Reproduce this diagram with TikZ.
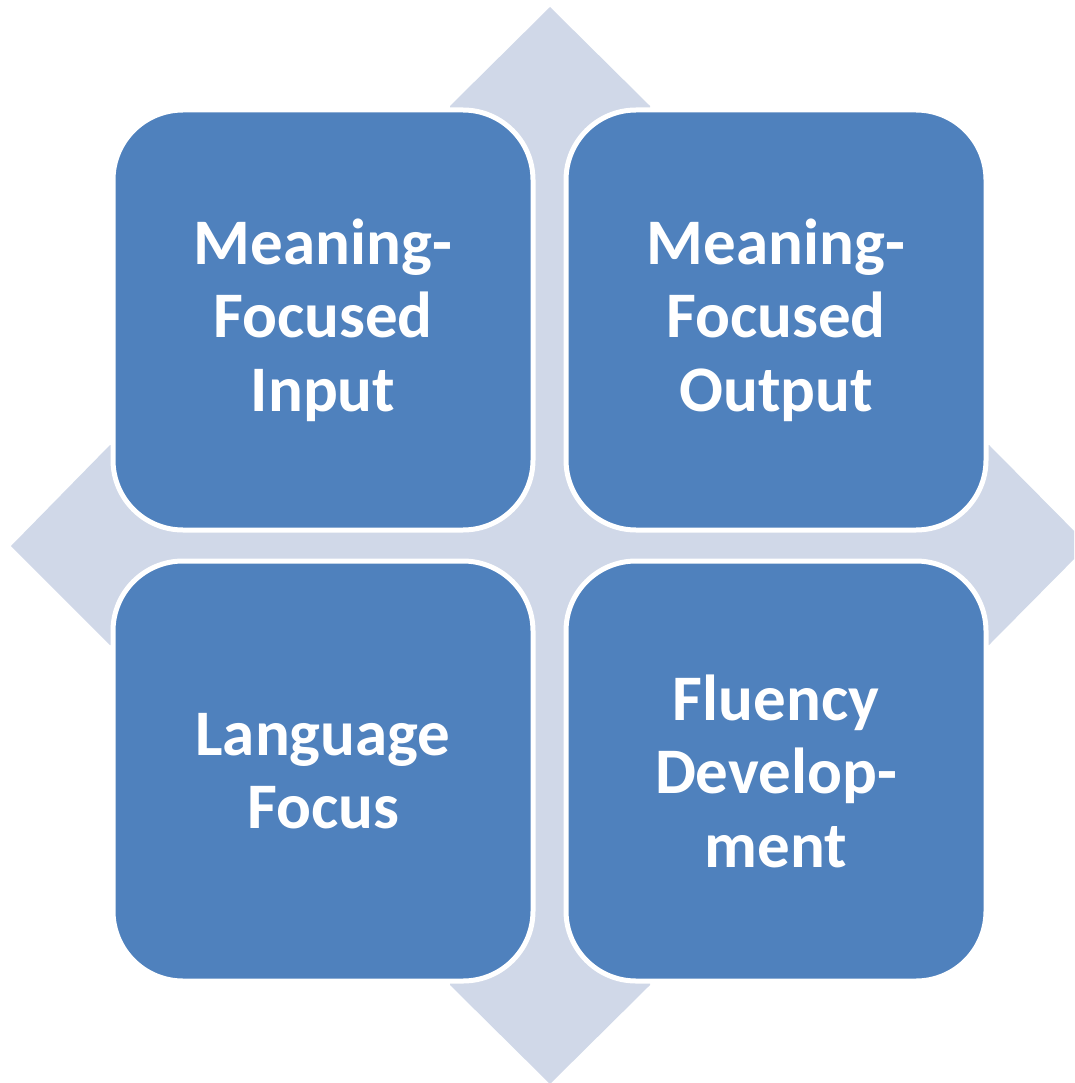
\documentclass[tikz,border=0pt]{standalone}
\usepackage{fontspec}
\setmainfont{Carlito}
\definecolor{boxblue}{HTML}{4F81BD}
\definecolor{crossgrey}{HTML}{D0D8E8}
\begin{document}
\begin{tikzpicture}[x=1pt,y=-1pt,
  quad/.style={draw=white, line width=5pt, fill=boxblue, rounded corners=70pt,
    minimum width=420pt, minimum height=420pt, inner sep=0pt, text=white,
    align=center, font={\fontsize{65}{73.5}\selectfont\bfseries}}]
\useasboundingbox (0,0) rectangle (1074,1083);
\clip (0,0) rectangle (1074,1083);
\fill[crossgrey] (550,7) -- (650,106) -- (650,445) -- (989,445) -- (1088,545)
  -- (989,645) -- (650,645) -- (650,985) -- (550,1084) -- (450,985)
  -- (450,645) -- (110,645) -- (11,546) -- (110,445) -- (450,445)
  -- (450,106) -- cycle;
\node[quad] (mfi) at (323,320) {Meaning-\\Focused\\Input};
\node[quad] (mfo) at (776,320) {Meaning-\\Focused\\Output};
\node[quad] (lf) at (323,771) {Language\\Focus};
\node[quad] (fd) at (776,771) {Fluency\\Develop-\\ment};
\end{tikzpicture}
\end{document}
